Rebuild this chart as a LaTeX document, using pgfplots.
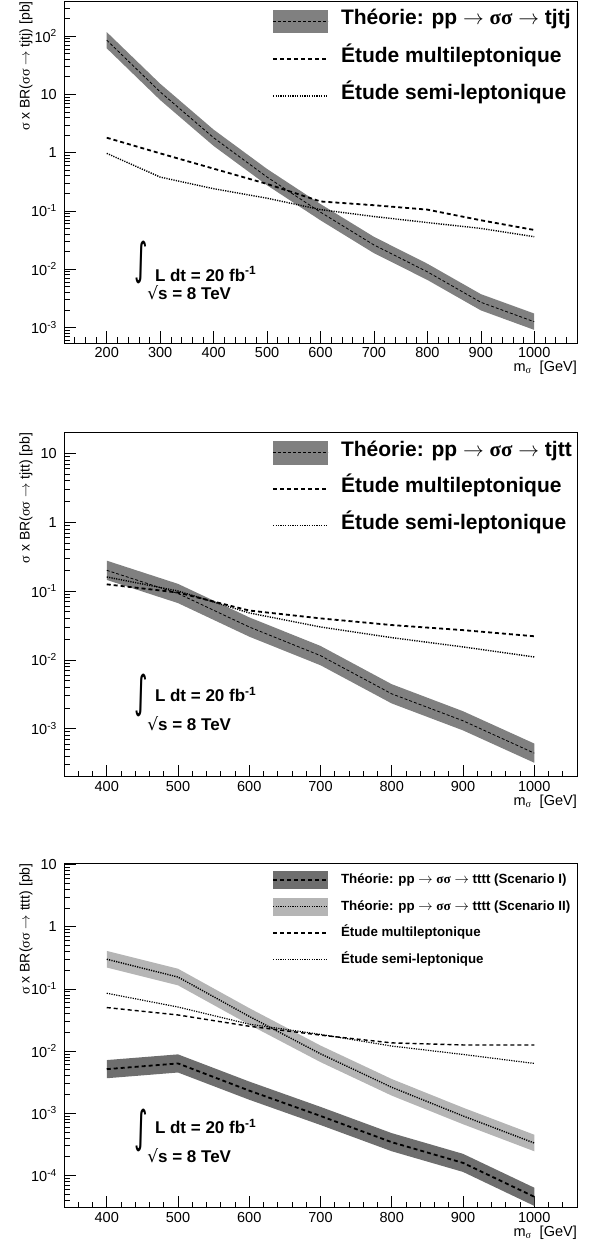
\documentclass[border=0pt]{standalone}
\usepackage{fontspec}
\setmainfont{Liberation Sans}
\newfontfamily\symf{Liberation Serif}
\newfontfamily\dejavu{DejaVu Sans}
\usepackage{graphicx}
\usepackage{pgfplots}
\pgfplotsset{compat=1.18}
\definecolor{bandA}{gray}{0.50}
\definecolor{bandD}{gray}{0.43}
\definecolor{bandL}{gray}{0.71}
\newcommand{\sig}{{\symf σ}}
\newcommand{\arr}{{\mdseries$\rightarrow$}}
\tikzset{
  theory/.style={black, line width=0.8pt, dash pattern=on 3pt off 2pt},
  multi/.style={black, line width=1.8pt, dash pattern=on 4pt off 3pt},
  semi/.style={black, line width=1.4pt, dash pattern=on 1.2pt off 1.2pt},
  annot/.style={inner sep=0pt, anchor=west, font=\bfseries\fontsize{17}{19}\selectfont},
}
\pgfplotsset{
  lineleg/.style={legend image code/.code={\path[draw=none,fill=none] (0pt,-#1) rectangle (55pt,#1); \draw[##1] (0pt,0pt) -- (55pt,0pt);}},
  bandlegA/.style={legend image code/.code={\path[draw=none,fill=none] (0pt,-16.5pt) rectangle (55pt,16.5pt); \path[fill=bandA, draw=none] (0pt,-11.5pt) rectangle (55pt,11.5pt); \draw[##1] (0pt,0pt) -- (55pt,0pt);}},
  bandlegB/.style={legend image code/.code={\path[draw=none,fill=none] (0pt,-16.2pt) rectangle (55pt,16.2pt); \path[fill=bandA, draw=none] (0pt,-12pt) rectangle (55pt,12pt); \draw[##1] (0pt,0pt) -- (55pt,0pt);}},
  bandlegD/.style={legend image code/.code={\path[draw=none,fill=none] (0pt,-12.5pt) rectangle (55pt,12.5pt); \path[fill=bandD, draw=none] (0pt,-9pt) rectangle (55pt,9pt); \draw[##1] (0pt,0pt) -- (55pt,0pt);}},
  bandlegL/.style={legend image code/.code={\path[draw=none,fill=none] (0pt,-12.5pt) rectangle (55pt,12.5pt); \path[fill=bandL, draw=none] (0pt,-9pt) rectangle (55pt,9pt); \draw[##1] (0pt,0pt) -- (55pt,0pt);}},
  rootaxis/.style={
    scale only axis, width=513pt,
    axis line style={line width=0.9pt},
    tick align=inside, tick pos=left,
    major tick length=12pt, minor tick length=6pt,
    every tick/.append style={line width=0.6pt, black},
    scaled x ticks=false,
    xticklabel style={font=\fontsize{14.5}{16}\selectfont, inner sep=0pt, yshift=-4.5pt, /pgf/number format/assume math mode=true, /pgf/number format/1000 sep={}},
    yticklabel style={font=\fontsize{14.5}{16}\selectfont, inner sep=0pt, xshift=-7pt},
    xlabel={m\textsubscript{\sig}\ \ [GeV]},
    every axis x label/.style={at={(rel axis cs:1,-0.053)}, anchor=north east, inner sep=0pt, font=\fontsize{14.5}{16}\selectfont},
    every axis y label/.style={at={(rel axis cs:-0.061,1)}, anchor=south east, rotate=90, inner sep=0pt, font=\fontsize{14}{16}\selectfont},
    legend cell align=left,
  },
}
\begin{document}
\begin{tikzpicture}[x=1pt,y=1pt]
\useasboundingbox (0,0) rectangle (592,1245);

% ---------------- Panel 1 ----------------
\begin{axis}[ymode=log, rootaxis, at={(64pt,902pt)}, anchor=south west, height=342pt,
  xmin=120, xmax=1080, ymin=5.4e-4, ymax=400,
  xtick={200,300,...,1000}, minor xtick={140,160,...,1060},
  ytick={1e-3,1e-2,1e-1,1,10,100},
  yticklabels={10\textsuperscript{-3},10\textsuperscript{-2},10\textsuperscript{-1},1,10,10\textsuperscript{2}},
  minor ytick={6e-4,7e-4,8e-4,9e-4,2e-3,3e-3,4e-3,5e-3,6e-3,7e-3,8e-3,9e-3,2e-2,3e-2,4e-2,5e-2,6e-2,7e-2,8e-2,9e-2,0.2,0.3,0.4,0.5,0.6,0.7,0.8,0.9,2,3,4,5,6,7,8,9,20,30,40,50,60,70,80,90,200,300,400},
  ylabel={\sig{} x BR(\sig\sig{} $\rightarrow$ tjtj) [pb]},
  legend style={at={(rel axis cs:0.4055,0.9898)}, anchor=north west, draw=none, fill=none, inner sep=0pt, column sep=12pt, row sep=4.5pt, font=\bfseries\fontsize{21}{23}\selectfont, nodes={inner sep=0pt, text height=0.72em, text depth=0pt}},
  lineleg=16.5pt,
]
\addplot[fill=bandA, draw=none, forget plot] coordinates {
 (200,117) (300,15.2) (400,2.48) (500,0.524) (600,0.131) (700,0.0359) (800,0.0124) (900,0.00373) (1000,0.00173)
 (1000,0.000906) (900,0.00196) (800,0.00652) (700,0.0188) (600,0.0688) (500,0.275) (400,1.30) (300,7.97) (200,61.6)};
\addplot[theory, bandlegA] coordinates {
 (200,85) (300,11) (400,1.8) (500,0.38) (600,0.095) (700,0.026) (800,0.009) (900,0.0027) (1000,0.00125)};
\addlegendentry{Théorie: pp \arr{} \sig\sig{} \arr{} tjtj}
\addplot[multi] coordinates {
 (200,1.8) (300,0.97) (400,0.53) (500,0.29) (600,0.145) (700,0.125) (800,0.105) (900,0.069) (1000,0.047)};
\addlegendentry{Étude multileptonique}
\addplot[semi] coordinates {
 (200,0.97) (300,0.38) (400,0.24) (500,0.165) (600,0.105) (700,0.08) (800,0.063) (900,0.05) (1000,0.036)};
\addlegendentry{Étude semi-leptonique}
\node[inner sep=0pt] at (rel axis cs:0.150,0.235) {\scalebox{1}[1.7]{\fontsize{26}{26}\selectfont\dejavu ∫}};
\node[annot] at (rel axis cs:0.177,0.202) {L dt = 20 fb\textsuperscript{-1}};
\node[annot] at (rel axis cs:0.162,0.146) {{\dejavu\mdseries √}s = 8 TeV};
\end{axis}

% ---------------- Panel 2 ----------------
\begin{axis}[ymode=log, rootaxis, at={(64pt,468.3pt)}, anchor=south west, height=344pt,
  xmin=340, xmax=1060, ymin=2e-4, ymax=20,
  xtick={400,500,...,1000}, minor xtick={360,380,...,1040},
  ytick={1e-3,1e-2,1e-1,1,10},
  yticklabels={10\textsuperscript{-3},10\textsuperscript{-2},10\textsuperscript{-1},1,10},
  minor ytick={2e-4,3e-4,4e-4,5e-4,6e-4,7e-4,8e-4,9e-4,2e-3,3e-3,4e-3,5e-3,6e-3,7e-3,8e-3,9e-3,2e-2,3e-2,4e-2,5e-2,6e-2,7e-2,8e-2,9e-2,0.2,0.3,0.4,0.5,0.6,0.7,0.8,0.9,2,3,4,5,6,7,8,9,20},
  ylabel={\sig{} x BR(\sig\sig{} $\rightarrow$ tjtt) [pb]},
  legend style={at={(rel axis cs:0.4055,0.990)}, anchor=north west, draw=none, fill=none, inner sep=0pt, column sep=12pt, row sep=4.2pt, font=\bfseries\fontsize{21}{23}\selectfont, nodes={inner sep=0pt, text height=0.72em, text depth=0pt}},
  lineleg=16.2pt,
]
\addplot[fill=bandA, draw=none, forget plot] coordinates {
 (400,0.276) (500,0.127) (600,0.0414) (700,0.0159) (800,0.00442) (900,0.00179) (1000,0.000607)
 (1000,0.000319) (900,0.000942) (800,0.00232) (700,0.00833) (600,0.0217) (500,0.0667) (400,0.145)};
\addplot[theory, bandlegB] coordinates {
 (400,0.20) (500,0.092) (600,0.030) (700,0.0115) (800,0.0032) (900,0.0013) (1000,0.00044)};
\addlegendentry{Théorie: pp \arr{} \sig\sig{} \arr{} tjtt}
\addplot[multi] coordinates {
 (400,0.125) (500,0.095) (600,0.052) (700,0.040) (800,0.032) (900,0.027) (1000,0.022)};
\addlegendentry{Étude multileptonique}
\addplot[semi] coordinates {
 (400,0.16) (500,0.10) (600,0.048) (700,0.030) (800,0.021) (900,0.0154) (1000,0.011)};
\addlegendentry{Étude semi-leptonique}
\node[inner sep=0pt] at (rel axis cs:0.150,0.2375) {\scalebox{1}[1.7]{\fontsize{26}{26}\selectfont\dejavu ∫}};
\node[annot] at (rel axis cs:0.177,0.240) {L dt = 20 fb\textsuperscript{-1}};
\node[annot] at (rel axis cs:0.162,0.153) {{\dejavu\mdseries √}s = 8 TeV};
\end{axis}

% ---------------- Panel 3 ----------------
\begin{axis}[ymode=log, rootaxis, at={(64pt,37.3pt)}, anchor=south west, height=344.4pt,
  xmin=340, xmax=1060, ymin=3e-5, ymax=10.5,
  xtick={400,500,...,1000}, minor xtick={360,380,...,1040},
  ytick={1e-4,1e-3,1e-2,1e-1,1,10},
  yticklabels={10\textsuperscript{-4},10\textsuperscript{-3},10\textsuperscript{-2},10\textsuperscript{-1},1,10},
  minor ytick={4e-5,5e-5,6e-5,7e-5,8e-5,9e-5,2e-4,3e-4,4e-4,5e-4,6e-4,7e-4,8e-4,9e-4,2e-3,3e-3,4e-3,5e-3,6e-3,7e-3,8e-3,9e-3,2e-2,3e-2,4e-2,5e-2,6e-2,7e-2,8e-2,9e-2,0.2,0.3,0.4,0.5,0.6,0.7,0.8,0.9,2,3,4,5,6,7,8,9},
  ylabel={\sig{} x BR(\sig\sig{} $\rightarrow$ tttt) [pb]},
  legend style={at={(rel axis cs:0.4055,0.988)}, anchor=north west, draw=none, fill=none, inner sep=0pt, column sep=12pt, row sep=1.5pt, font=\bfseries\fontsize{13.3}{15}\selectfont, nodes={inner sep=0pt, text height=0.72em, text depth=0pt}},
  lineleg=12.5pt,
]
\addplot[fill=bandD, draw=none, forget plot] coordinates {
 (400,0.00714) (500,0.00882) (600,0.00322) (700,0.00126) (800,0.000476) (900,0.000221) (1000,0.000063)
 (1000,0.0000321) (900,0.000113) (800,0.000243) (700,0.000643) (600,0.00164) (500,0.0045) (400,0.00364)};
\addplot[fill=bandL, draw=none, forget plot] coordinates {
 (400,0.408) (500,0.211) (600,0.049) (700,0.01224) (800,0.00354) (900,0.001224) (1000,0.000449)
 (1000,0.000243) (900,0.000662) (800,0.00191) (700,0.00662) (600,0.0265) (500,0.114) (400,0.2205)};
\addplot[multi, bandlegD] coordinates {
 (400,0.0051) (500,0.0063) (600,0.0023) (700,0.0009) (800,0.00034) (900,0.000158) (1000,0.000045)};
\addlegendentry{Théorie: pp \arr{} \sig\sig{} \arr{} tttt (Scenario I)}
\addplot[semi, bandlegL] coordinates {
 (400,0.30) (500,0.155) (600,0.036) (700,0.009) (800,0.0026) (900,0.0009) (1000,0.00033)};
\addlegendentry{Théorie: pp \arr{} \sig\sig{} \arr{} tttt (Scenario II)}
\addplot[multi, line width=1.4pt] coordinates {
 (400,0.050) (500,0.038) (600,0.025) (700,0.018) (800,0.0135) (900,0.0125) (1000,0.0125)};
\addlegendentry{Étude multileptonique}
\addplot[semi, line width=1.2pt] coordinates {
 (400,0.085) (500,0.051) (600,0.027) (700,0.0185) (800,0.012) (900,0.0088) (1000,0.0063)};
\addlegendentry{Étude semi-leptonique}
\node[inner sep=0pt] at (rel axis cs:0.150,0.225) {\scalebox{1}[1.7]{\fontsize{26}{26}\selectfont\dejavu ∫}};
\node[annot] at (rel axis cs:0.177,0.235) {L dt = 20 fb\textsuperscript{-1}};
\node[annot] at (rel axis cs:0.162,0.152) {{\dejavu\mdseries √}s = 8 TeV};
\end{axis}
\end{tikzpicture}
\end{document}
